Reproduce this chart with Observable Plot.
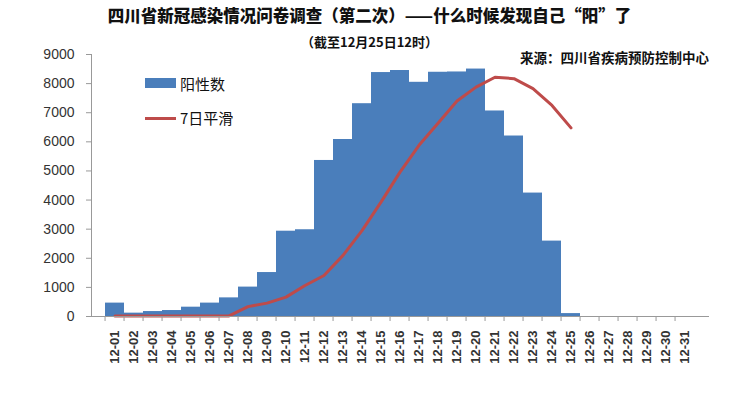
<!DOCTYPE html>
<html><head><meta charset="utf-8">
<script src="https://cdn.jsdelivr.net/npm/d3@7"></script>
<script src="https://cdn.jsdelivr.net/npm/@observablehq/plot@0.6"></script>
<style>
body{margin:0;background:#fff;}
#wrap{position:relative;width:739px;height:419px;font-family:"Noto Sans CJK SC","Noto Sans",sans-serif;}
.t{position:absolute;white-space:nowrap;color:#111;}
</style></head>
<body><div id="wrap"></div>
<script>
const dates = ["12-01","12-02","12-03","12-04","12-05","12-06","12-07","12-08","12-09","12-10","12-11","12-12","12-13","12-14","12-15","12-16","12-17","12-18","12-19","12-20","12-21","12-22","12-23","12-24","12-25","12-26","12-27","12-28","12-29","12-30","12-31"];
const positives = [460,115,170,205,320,460,640,1010,1510,2930,2980,5360,6080,7310,8380,8450,8045,8390,8400,8500,7060,6200,4240,2590,100];
const smooth7 = [20,20,20,20,20,20,20,340,460,665,1065,1410,2100,2950,3930,4960,5880,6640,7400,7880,8220,8170,7830,7250,6480];
const yTicks = [0,1000,2000,3000,4000,5000,6000,7000,8000,9000];
const title = "四川省新冠感染情况问卷调查（第二次）——什么时候发现自己“阳”了";
const subtitle = "（截至12月25日12时）";
const source = "来源：四川省疾病预防控制中心";
const legendBar = "阳性数";
const legendLine = "7日平滑";

const barData = positives.map((v,i)=>({date:dates[i], value:v}));
const lineData = smooth7.map((v,i)=>({date:dates[i], value:v}));

const W=739,H=419,ml=91,mr=31,mt=54,mb=103;
const bw=(W-ml-mr)/dates.length;
const blue="#4a7ebb", red="#be4b4a";

const chart = Plot.plot({
  width:W,height:H,marginLeft:ml,marginRight:mr,marginTop:mt,marginBottom:mb,
  style:{fontFamily:"Liberation Sans, Arial, sans-serif",fontSize:"12px",color:"#333",background:"transparent"},
  x:{domain:dates,padding:0,label:null},
  y:{domain:[0,9000],label:null},
  marks:[
    Plot.barY(barData,{x:"date",y:"value",fill:blue,inset:0}),
    Plot.lineY(lineData,{x:"date",y:"value",stroke:red,strokeWidth:3}),
    Plot.frame({anchor:"left",stroke:"#999"}),
    Plot.frame({anchor:"bottom",stroke:"#999"}),
    Plot.axisY({ticks:yTicks,tickFormat:d=>String(d),tickSize:5,tickPadding:12,stroke:"#999",fontSize:14,label:null}),
    Plot.axisX({tickSize:5,text:null,dx:-bw/2,stroke:"#999"}),
    Plot.axisX({tickSize:0,tickRotate:-90,tickPadding:14,fontSize:13,fontWeight:"bold",label:null})
  ]
});
chart.style.position="absolute";chart.style.left="0";chart.style.top="0";
const wrap=document.getElementById("wrap");
wrap.appendChild(chart);
function add(txt,css){const d=document.createElement("div");d.className="t";d.textContent=txt;Object.assign(d.style,css);wrap.appendChild(d);return d;}
add(title,{left:"0",width:"739px",textAlign:"center",top:"3px",fontSize:"16.5px",fontWeight:"900"});
add(subtitle,{left:"0",width:"739px",textAlign:"center",top:"32px",fontSize:"13px",fontWeight:"700"});
add(source,{left:"520px",top:"47px",fontSize:"13.5px",fontWeight:"700"});
const lb=document.createElement("div");Object.assign(lb.style,{position:"absolute",left:"145px",top:"78px",width:"31px",height:"10px",background:blue});wrap.appendChild(lb);
add(legendBar,{left:"180px",top:"73px",fontSize:"15px"});
const ll=document.createElement("div");Object.assign(ll.style,{position:"absolute",left:"145px",top:"117px",width:"31px",height:"3px",background:red});wrap.appendChild(ll);
add(legendLine,{left:"180px",top:"107px",fontSize:"15px"});
</script></body></html>
